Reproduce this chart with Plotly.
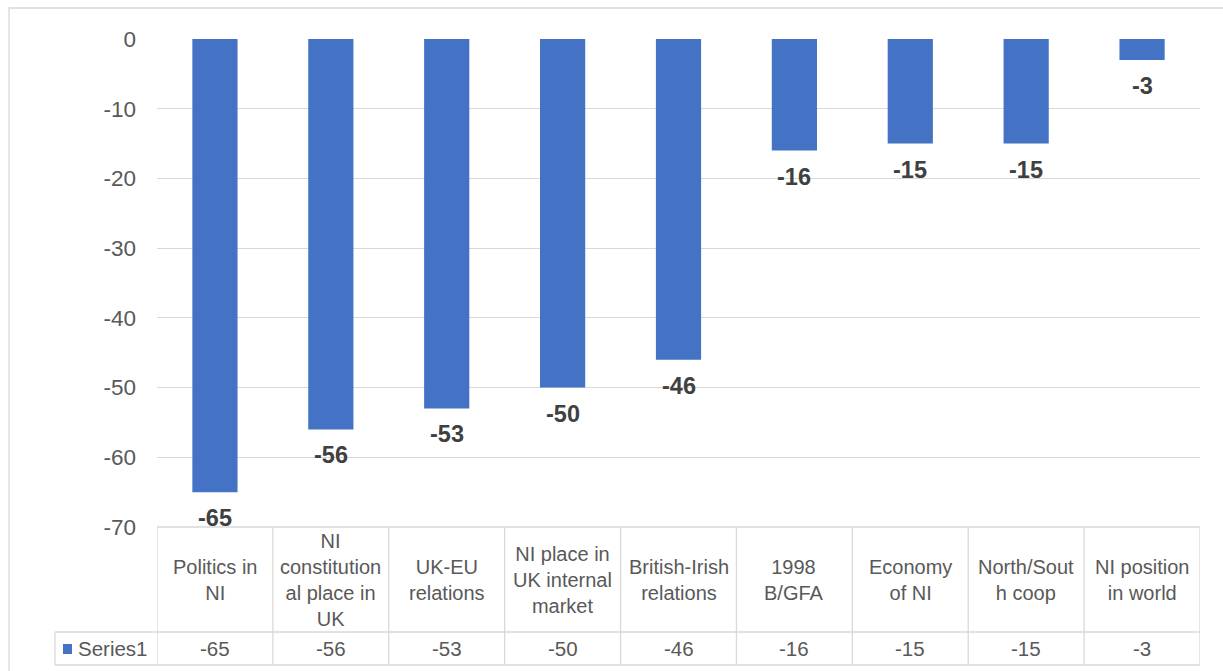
import plotly.graph_objects as go

categories = ["Politics in NI", "NI constitutional place in UK", "UK-EU relations",
              "NI place in UK internal market", "British-Irish relations", "1998 B/GFA",
              "Economy of NI", "North/South coop", "NI position in world"]
wrapped_labels = ["Politics in<br>NI", "NI<br>constitution<br>al place in<br>UK", "UK-EU<br>relations",
                  "NI place in<br>UK internal<br>market", "British-Irish<br>relations", "1998<br>B/GFA",
                  "Economy<br>of NI", "North/Sout<br>h coop", "NI position<br>in world"]
values = [-65, -56, -53, -50, -46, -16, -15, -15, -3]
series_name = "Series1"
tick_vals = [0, -10, -20, -30, -40, -50, -60, -70]

W, H = 1223, 671
ML, MR, MT, MB = 157, 23, 39, 144
PW, PH = W - ML - MR, H - MT - MB

def px_x(x):
    return (x - ML) / PW

def px_y(y):
    return 1 - (y - MT) / PH

BAR = "#4472C4"
GRID = "#D9D9D9"
TXT = "#595959"
FONT = "Liberation Sans, Arial, sans-serif"

n = len(categories)
xs = list(range(n))

fig = go.Figure()
fig.add_trace(go.Bar(x=xs, y=values, width=0.39, marker=dict(color=BAR, line=dict(width=0)),
                     name=series_name, showlegend=False, hoverinfo="skip"))

# data labels
for i, v in enumerate(values):
    fig.add_annotation(x=i, y=v, xref="x", yref="y", text="<b>%d</b>" % v, showarrow=False,
                       yshift=-26, font=dict(family=FONT, size=23.5, color="#404040"))

row1_bot = px_y(632)
row2_bot = px_y(665)
legend_left = px_x(55)

shapes = []
line = dict(color=GRID, width=1.3)
# horizontal table lines
shapes.append(dict(type="line", xref="x", yref="paper", x0=-0.5, x1=n - 0.5, y0=0, y1=0, line=line))
shapes.append(dict(type="line", xref="paper", yref="paper", x0=legend_left, x1=1, y0=row1_bot, y1=row1_bot, line=line))
shapes.append(dict(type="line", xref="paper", yref="paper", x0=legend_left, x1=1, y0=row2_bot, y1=row2_bot, line=line))
# vertical table lines
for k in range(n + 1):
    shapes.append(dict(type="line", xref="x", yref="paper", x0=k - 0.5, x1=k - 0.5, y0=0, y1=row2_bot, line=line))
shapes.append(dict(type="line", xref="paper", yref="paper", x0=legend_left, x1=legend_left, y0=row1_bot, y1=row2_bot, line=line))
# legend key
shapes.append(dict(type="rect", xref="paper", yref="paper", x0=px_x(63), x1=px_x(72), y0=px_y(654), y1=px_y(644),
                   fillcolor=BAR, line=dict(width=0)))
# outer chart border
shapes.append(dict(type="rect", xref="paper", yref="paper", x0=px_x(9), x1=px_x(1240), y0=px_y(690), y1=px_y(8),
                   line=dict(color=GRID, width=1.3), fillcolor="rgba(0,0,0,0)", layer="below"))

# table text
row1_mid = (0 + row1_bot) / 2
row2_mid = (row1_bot + row2_bot) / 2
for i in range(n):
    fig.add_annotation(x=i, y=row1_mid, xref="x", yref="paper", text=wrapped_labels[i], showarrow=False,
                       yanchor="middle", font=dict(family=FONT, size=20, color=TXT))
    fig.add_annotation(x=i, y=row2_mid, xref="x", yref="paper", text=str(values[i]), showarrow=False,
                       yanchor="middle", font=dict(family=FONT, size=20.5, color=TXT))
fig.add_annotation(x=px_x(76), y=row2_mid, xref="paper", yref="paper", text=series_name, showarrow=False,
                   xanchor="left", yanchor="middle", font=dict(family=FONT, size=20.5, color=TXT))

fig.update_layout(
    width=W, height=H, margin=dict(l=ML, r=MR, t=MT, b=MB),
    paper_bgcolor="white", plot_bgcolor="white",
    shapes=shapes, bargap=0.61,
    xaxis=dict(range=[-0.5, n - 0.5], showticklabels=False, showgrid=False, zeroline=False, fixedrange=True),
    yaxis=dict(range=[-70, 0], tickvals=tick_vals, ticktext=[str(t) for t in tick_vals],
               showgrid=True, gridcolor=GRID, gridwidth=1.3, zeroline=False,
               tickfont=dict(family=FONT, size=22.5, color=TXT), ticklabelstandoff=20, fixedrange=True),
)

fig.write_html("out.html")
